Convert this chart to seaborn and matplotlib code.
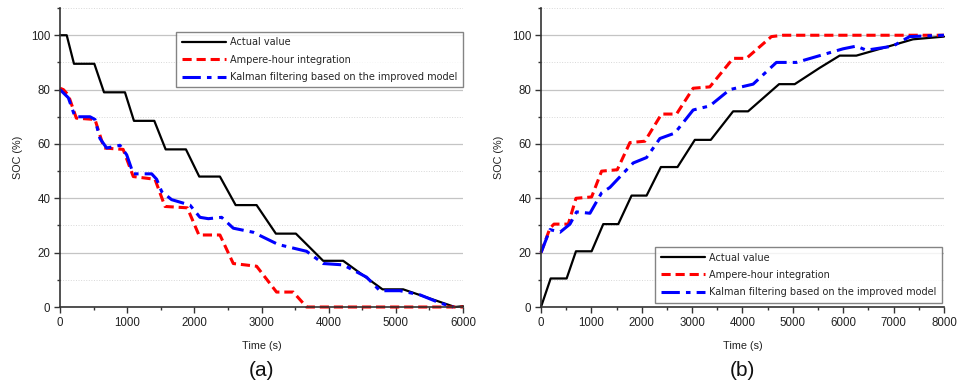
import numpy as np
import pandas as pd
import matplotlib
matplotlib.use("Agg")
import matplotlib.pyplot as plt
import seaborn as sns
from matplotlib.ticker import MultipleLocator

# (a) discharge
a_actual_t = [0, 100, 208, 511, 655, 967, 1101, 1404, 1573, 1875, 2073, 2381, 2615, 2927,
              3214, 3512, 3918, 4216, 4802, 5109, 5880, 6000]
a_actual_v = [100, 100, 89.5, 89.5, 79, 79, 68.5, 68.5, 58, 58, 48, 48, 37.5, 37.5,
              27, 27, 17, 17, 6.5, 6.5, 0, 0.3]
a_ah_t = [0, 50, 124, 243, 521, 655, 940, 1091, 1414, 1563, 1895, 2068, 2381, 2580, 2927,
          3224, 3472, 3671, 6000]
a_ah_v = [80.5, 80, 78, 69.5, 69, 58.5, 58, 48, 47, 37, 36.5, 26.5, 26.5, 16, 15,
          5.5, 5.5, 0, 0]
a_kf_t = [0, 124, 223, 447, 521, 595, 695, 893, 993, 1091, 1365, 1439, 1513, 1662, 1935,
          2084, 2208, 2406, 2580, 2877, 3249, 3671, 3918, 4216, 4564, 4762, 5060, 5357,
          5655, 5854]
a_kf_v = [80, 77, 70, 70, 69, 62, 58.5, 59.5, 56, 49, 49, 47, 42.5, 39.5, 37.5,
          33, 32.5, 33, 29, 27.5, 23, 20.5, 16, 15.5, 11, 6, 6, 4.5, 1.5, 0]

# (b) charge
b_actual_t = [0, 192, 509, 694, 1005, 1236, 1534, 1798, 2096, 2380, 2710, 3054, 3371,
              3814, 4111, 4726, 5037, 5533, 5929, 6260, 6921, 7384, 8000]
b_actual_v = [0, 10.5, 10.5, 20.5, 20.5, 30.5, 30.5, 41, 41, 51.5, 51.5, 61.5, 61.5,
              72, 72, 82, 82, 88, 92.5, 92.5, 96, 98.5, 99.5]
b_ah_t = [0, 178, 258, 542, 694, 1005, 1203, 1514, 1765, 2062, 2393, 2690, 3021, 3351,
          3814, 4078, 4574, 4806, 8000]
b_ah_v = [20, 29, 30.5, 30.5, 40, 40.5, 50, 50.5, 60.5, 61, 71, 71, 80.5, 81,
          91.5, 91.5, 99.5, 100, 100]
b_kf_t = [0, 178, 377, 575, 707, 972, 1203, 1368, 1699, 1831, 2096, 2360, 2657, 3021,
          3351, 3748, 4211, 4673, 5070, 5533, 5995, 6260, 6458, 6987, 7317, 8000]
b_kf_v = [20, 28.5, 27.5, 30.5, 35, 34.5, 42, 44, 50.5, 53, 55, 62, 64, 72.5,
          74, 80, 82, 90, 90, 92.5, 95, 96, 94.5, 96, 99.5, 100]

labels = ["Actual value", "Ampere-hour integration",
          "Kalman filtering based on the improved model"]

sns.set_style("white")
plt.rcParams['font.family'] = ['Liberation Sans', 'DejaVu Sans']

fig = plt.figure(figsize=(9.57, 3.84), dpi=100)
ax1 = fig.add_axes([0.0627, 0.2005, 0.4211, 0.7785])
ax2 = fig.add_axes([0.5653, 0.2005, 0.4211, 0.7785])


def draw(ax, series, xmax, loc, anchor, tag):
    styles = [dict(color="black", linestyle="-", linewidth=1.6),
              dict(color="red", linestyle=(0, (3, 1.6)), linewidth=2.2),
              dict(color="blue", linestyle=(0, (6, 2, 1.5, 2)), linewidth=2.2)]
    for (t, v), lab, st in zip(series, labels, styles):
        df = pd.DataFrame({"t": t, "v": v})
        sns.lineplot(data=df, x="t", y="v", ax=ax, label=lab, clip_on=False, **st)
    ax.set_xlim(0, xmax)
    ax.set_ylim(0, 110)
    ax.xaxis.set_major_locator(MultipleLocator(1000))
    ax.xaxis.set_minor_locator(MultipleLocator(500))
    ax.set_yticks([0, 20, 40, 60, 80, 100])
    ax.yaxis.set_minor_locator(MultipleLocator(10))
    ax.grid(True, which="major", axis="y", color="#c4c4c4", linewidth=0.9)
    ax.grid(True, which="minor", axis="y", color="#d8d8d8", linewidth=0.7, linestyle=":")
    ax.set_axisbelow(True)
    for s in ["top", "right"]:
        ax.spines[s].set_visible(False)
    for s in ["left", "bottom"]:
        ax.spines[s].set_color("#333333")
        ax.spines[s].set_linewidth(1.2)
    ax.tick_params(which="major", direction="out", length=4, width=1, color="#333333",
                   labelsize=8.3, labelcolor="#222222", left=True, bottom=True, pad=3)
    ax.tick_params(which="minor", direction="out", length=2.5, width=1, color="#333333",
                   left=True, bottom=True)
    ax.set_xlabel("Time (s)", fontsize=7.8, color="#222222", labelpad=9)
    ax.set_ylabel("SOC (%)", fontsize=7.8, color="#222222", labelpad=6)
    leg = ax.legend(loc=loc, bbox_to_anchor=anchor, frameon=True,
                    prop={"family": "DejaVu Sans", "size": 7},
                    fancybox=False, edgecolor="#666666", handlelength=4.6,
                    borderpad=0.55, labelspacing=0.75, handletextpad=0.4,
                    borderaxespad=0)
    leg.get_frame().set_linewidth(1.0)
    ax.text(0.5, -0.212, tag, transform=ax.transAxes, ha="center", va="center",
            fontsize=15, color="#111111")


draw(ax1, [(a_actual_t, a_actual_v), (a_ah_t, a_ah_v), (a_kf_t, a_kf_v)],
     6000, "upper right", (1.0, 0.92), "(a)")
draw(ax2, [(b_actual_t, b_actual_v), (b_ah_t, b_ah_v), (b_kf_t, b_kf_v)],
     8000, "lower right", (0.995, 0.015), "(b)")

fig.savefig("out.png", dpi=100)
